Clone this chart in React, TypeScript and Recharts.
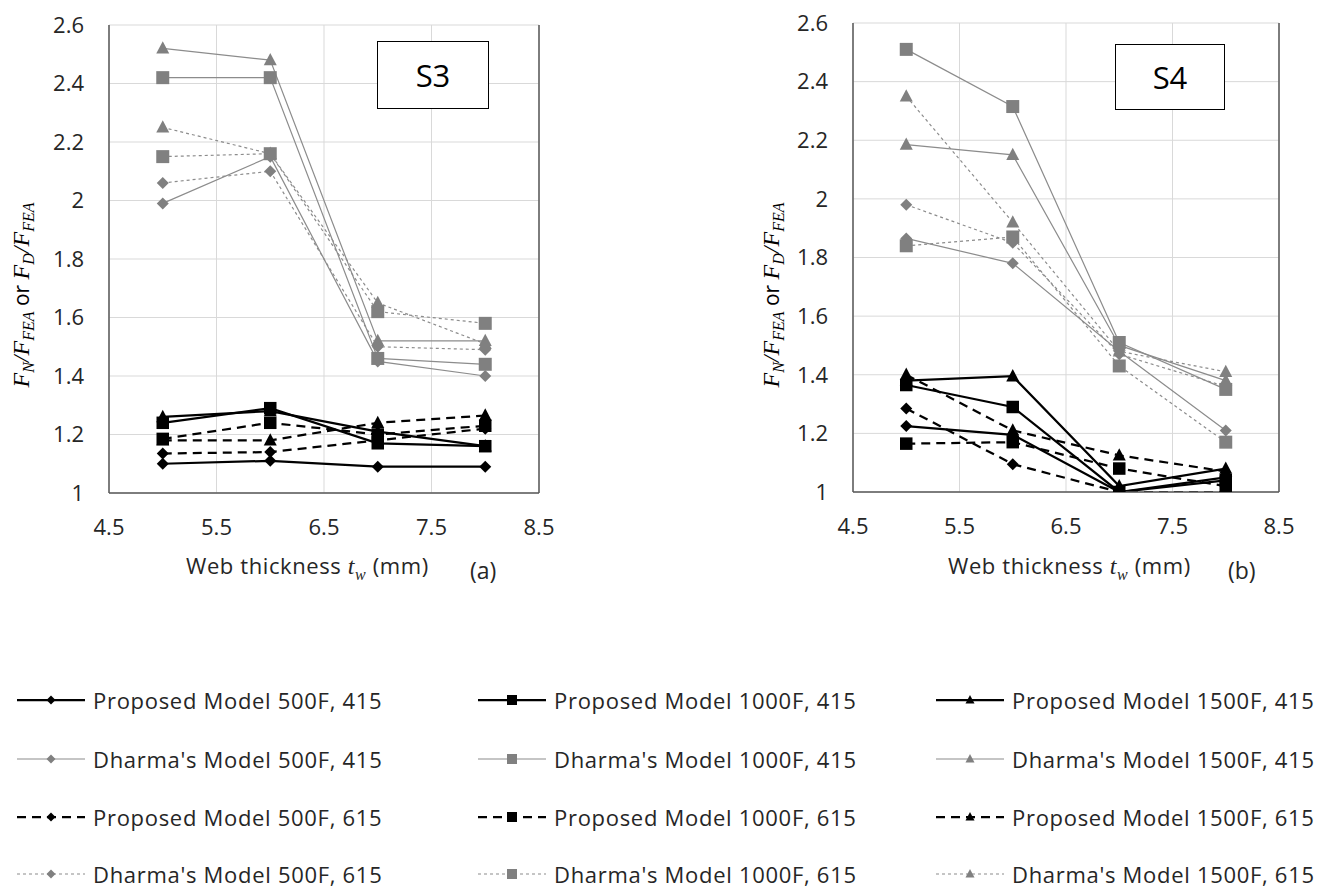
import React from 'react'
import { LineChart, Line, XAxis, YAxis, CartesianGrid, ReferenceLine } from 'recharts'

// web thickness t_w (mm)
const thickness = [5, 6, 7, 8]

// S3 — ratios F/F_FEA
const s3Prop500_415 = [1.1, 1.11, 1.09, 1.09]
const s3Prop1000_415 = [1.24, 1.29, 1.17, 1.16]
const s3Prop1500_415 = [1.26, 1.28, 1.21, 1.16]
const s3Dh500_415 = [1.99, 2.15, 1.45, 1.4]
const s3Dh1000_415 = [2.42, 2.42, 1.46, 1.44]
const s3Dh1500_415 = [2.52, 2.48, 1.52, 1.52]
const s3Prop500_615 = [1.135, 1.14, 1.18, 1.22]
const s3Prop1000_615 = [1.185, 1.24, 1.2, 1.23]
const s3Prop1500_615 = [1.18, 1.18, 1.24, 1.265]
const s3Dh500_615 = [2.06, 2.1, 1.5, 1.49]
const s3Dh1000_615 = [2.15, 2.16, 1.62, 1.58]
const s3Dh1500_615 = [2.25, 2.16, 1.65, 1.51]

// S4
const s4Prop500_415 = [1.225, 1.195, 1.0, 1.05]
const s4Prop1000_415 = [1.365, 1.29, 1.0, 1.04]
const s4Prop1500_415 = [1.38, 1.395, 1.02, 1.08]
const s4Dh500_415 = [1.865, 1.78, 1.48, 1.21]
const s4Dh1000_415 = [2.51, 2.315, 1.51, 1.35]
const s4Dh1500_415 = [2.185, 2.15, 1.5, 1.38]
const s4Prop500_615 = [1.285, 1.095, 1.0, 1.0]
const s4Prop1000_615 = [1.165, 1.17, 1.08, 1.02]
const s4Prop1500_615 = [1.4, 1.21, 1.125, 1.07]
const s4Dh500_615 = [1.98, 1.85, 1.47, 1.36]
const s4Dh1000_615 = [1.84, 1.87, 1.43, 1.17]
const s4Dh1500_615 = [2.35, 1.92, 1.48, 1.41]

const xTicks = [4.5, 5.5, 6.5, 7.5, 8.5]
const yTicks = [1, 1.2, 1.4, 1.6, 1.8, 2, 2.2, 2.4, 2.6]

const BLACK = '#000'
const GRAY = '#808080'
const GRAY_LINE = '#8c8c8c'
const FONT = '"Open Sans", Lato, sans-serif'
const TEXT = '#262626'

type Shape = 'diamond' | 'square' | 'triangle'

const seriesDefs = [
  { key: 'p500_415', label: 'Proposed Model 500F, 415', kind: 'prop', dashed: false, shape: 'diamond' as Shape },
  { key: 'p1000_415', label: 'Proposed Model 1000F, 415', kind: 'prop', dashed: false, shape: 'square' as Shape },
  { key: 'p1500_415', label: 'Proposed Model 1500F, 415', kind: 'prop', dashed: false, shape: 'triangle' as Shape },
  { key: 'd500_415', label: "Dharma's Model 500F, 415", kind: 'dh', dashed: false, shape: 'diamond' as Shape },
  { key: 'd1000_415', label: "Dharma's Model 1000F, 415", kind: 'dh', dashed: false, shape: 'square' as Shape },
  { key: 'd1500_415', label: "Dharma's Model 1500F, 415", kind: 'dh', dashed: false, shape: 'triangle' as Shape },
  { key: 'p500_615', label: 'Proposed Model 500F, 615', kind: 'prop', dashed: true, shape: 'diamond' as Shape },
  { key: 'p1000_615', label: 'Proposed Model 1000F, 615', kind: 'prop', dashed: true, shape: 'square' as Shape },
  { key: 'p1500_615', label: 'Proposed Model 1500F, 615', kind: 'prop', dashed: true, shape: 'triangle' as Shape },
  { key: 'd500_615', label: "Dharma's Model 500F, 615", kind: 'dh', dashed: true, shape: 'diamond' as Shape },
  { key: 'd1000_615', label: "Dharma's Model 1000F, 615", kind: 'dh', dashed: true, shape: 'square' as Shape },
  { key: 'd1500_615', label: "Dharma's Model 1500F, 615", kind: 'dh', dashed: true, shape: 'triangle' as Shape },
]

const s3Values: Record<string, number[]> = {
  p500_415: s3Prop500_415, p1000_415: s3Prop1000_415, p1500_415: s3Prop1500_415,
  d500_415: s3Dh500_415, d1000_415: s3Dh1000_415, d1500_415: s3Dh1500_415,
  p500_615: s3Prop500_615, p1000_615: s3Prop1000_615, p1500_615: s3Prop1500_615,
  d500_615: s3Dh500_615, d1000_615: s3Dh1000_615, d1500_615: s3Dh1500_615,
}
const s4Values: Record<string, number[]> = {
  p500_415: s4Prop500_415, p1000_415: s4Prop1000_415, p1500_415: s4Prop1500_415,
  d500_415: s4Dh500_415, d1000_415: s4Dh1000_415, d1500_415: s4Dh1500_415,
  p500_615: s4Prop500_615, p1000_615: s4Prop1000_615, p1500_615: s4Prop1500_615,
  d500_615: s4Dh500_615, d1000_615: s4Dh1000_615, d1500_615: s4Dh1500_615,
}

function buildRows(values: Record<string, number[]>) {
  return thickness.map((t, i) => {
    const row: Record<string, number> = { t }
    seriesDefs.forEach((s) => { row[s.key] = values[s.key][i] })
    return row
  })
}

function markerPath(shape: Shape, cx: number, cy: number, size: number) {
  const h = size / 2
  if (shape === 'diamond') return `M${cx},${cy - h}L${cx + h},${cy}L${cx},${cy + h}L${cx - h},${cy}Z`
  if (shape === 'square') return `M${cx - h},${cy - h}h${size}v${size}h${-size}Z`
  return `M${cx},${cy - h * 1.1}L${cx + h},${cy + h * 0.8}L${cx - h},${cy + h * 0.8}Z`
}

function markerSize(shape: Shape, kind: string) {
  if (shape === 'diamond') return 12
  if (shape === 'square') return kind === 'prop' ? 12.5 : 13
  return 13
}

function makeDot(shape: Shape, color: string, size: number) {
  return (props: any) => {
    const { cx, cy, index } = props
    if (cx == null || cy == null) return <g key={`e-${index}`} />
    return <path key={`d-${index}`} d={markerPath(shape, cx, cy, size)} fill={color} />
  }
}

function lineStyle(s: typeof seriesDefs[number]) {
  if (s.kind === 'prop') {
    return { stroke: BLACK, strokeWidth: 2.25, dash: s.dashed ? '9 6' : undefined, fill: BLACK }
  }
  return { stroke: GRAY_LINE, strokeWidth: 1.2, dash: s.dashed ? '3 3' : undefined, fill: GRAY }
}

const fmt = (v: number) => String(+v.toFixed(1))

function Panel({ rows, margin }: { rows: any[]; margin: any }) {
  return (
    <LineChart width={560} height={560} data={rows} margin={margin}>
      <CartesianGrid stroke="#d9d9d9" strokeWidth={1} />
      <XAxis
        dataKey="t"
        type="number"
        domain={[4.5, 8.5]}
        ticks={xTicks}
        tickFormatter={fmt}
        height={50}
        tickLine={false}
        tickSize={6}
        tickMargin={20}
        axisLine={{ stroke: '#595959', strokeWidth: 1.5 }}
        tick={{ fontSize: 22, fill: TEXT, fontFamily: FONT }}
        allowDataOverflow
      />
      <YAxis
        type="number"
        domain={[1, 2.6]}
        ticks={yTicks}
        tickFormatter={fmt}
        width={109}
        tickLine={false}
        tickSize={6}
        tickMargin={19}
        axisLine={{ stroke: '#595959', strokeWidth: 1.5 }}
        tick={{ fontSize: 22, fill: TEXT, fontFamily: FONT }}
        allowDataOverflow
      />
      <ReferenceLine x={8.5} stroke="#595959" strokeWidth={1.5} />
      {seriesDefs.map((s) => {
        const st = lineStyle(s)
        return (
          <Line
            key={s.key}
            dataKey={s.key}
            type="linear"
            stroke={st.stroke}
            strokeWidth={st.strokeWidth}
            strokeDasharray={st.dash}
            dot={makeDot(s.shape, st.fill, markerSize(s.shape, s.kind))}
            activeDot={false}
            isAnimationActive={false}
          />
        )
      })}
    </LineChart>
  )
}

function YTitle({ left, top }: { left: number; top: number }) {
  const serif = '"Liberation Serif", "DejaVu Serif", serif'
  return (
    <svg style={{ position: 'absolute', left, top }} width={40} height={340}>
      <text
        transform="translate(29,170) rotate(-90)"
        textAnchor="middle"
        fontSize={24}
        fill="#000"
        fontFamily={serif}
        fontStyle="italic"
      >
        <tspan>F</tspan>
        <tspan fontSize={16} dy={5}>N</tspan>
        <tspan dy={-5}>/F</tspan>
        <tspan fontSize={16} dy={5}>FEA</tspan>
        <tspan dy={-5} fontStyle="normal" fontFamily={FONT} fontSize={21}> or </tspan>
        <tspan>F</tspan>
        <tspan fontSize={16} dy={5}>D</tspan>
        <tspan dy={-5}>/F</tspan>
        <tspan fontSize={16} dy={5}>FEA</tspan>
      </text>
    </svg>
  )
}

function XTitle({ left, top, tag, tagLeft }: { left: number; top: number; tag: string; tagLeft: number }) {
  return (
    <>
      <div style={{ position: 'absolute', left, top, fontFamily: FONT, fontSize: 22, letterSpacing: 0.6, color: TEXT, whiteSpace: 'nowrap', lineHeight: '30px' }}>
        Web thickness{' '}
        <span style={{ fontFamily: '"Liberation Serif", serif', fontStyle: 'italic', fontSize: 24 }}>
          t<sub style={{ fontSize: 16 }}>w</sub>
        </span>{' '}
        (mm)
      </div>
      <div style={{ position: 'absolute', left: tagLeft, top: top + 5, fontFamily: FONT, fontSize: 23, color: TEXT, lineHeight: '30px' }}>{tag}</div>
    </>
  )
}

function Tag({ left, top, width, height, text }: { left: number; top: number; width: number; height: number; text: string }) {
  return (
    <div
      style={{
        position: 'absolute', left, top, width, height, boxSizing: 'border-box',
        border: '1.5px solid #000', background: '#fff', display: 'flex',
        alignItems: 'center', justifyContent: 'center', fontFamily: FONT, fontSize: 31, color: '#000',
      }}
    >
      {text}
    </div>
  )
}

const legendCols = [17, 478, 936]
const legendRows = [700, 759, 817, 874]

function LegendItem({ s, x, y }: { s: typeof seriesDefs[number]; x: number; y: number }) {
  const st = lineStyle(s)
  const size = s.shape === 'square' ? 10 : 9
  return (
    <div style={{ position: 'absolute', left: x, top: y - 12, height: 24, display: 'flex', alignItems: 'center', whiteSpace: 'nowrap' }}>
      <svg width={68} height={20} style={{ marginRight: 8 }}>
        <line x1={0} y1={10} x2={68} y2={10} stroke={st.stroke} strokeWidth={st.strokeWidth} strokeDasharray={st.dash} />
        <path d={markerPath(s.shape, 34, 10, size)} fill={st.fill} />
      </svg>
      <span style={{ fontFamily: FONT, fontSize: 22, letterSpacing: 0.7, lineHeight: '24px', color: TEXT }}>{s.label}</span>
    </div>
  )
}

export default function App() {
  const s3Rows = buildRows(s3Values)
  const s4Rows = buildRows(s4Values)
  return (
    <div style={{ position: 'absolute', left: 0, top: 0, width: 1322, height: 890, background: '#fff', overflow: 'hidden' }}>
      <div style={{ position: 'absolute', left: 0, top: 0 }}>
        <Panel rows={s3Rows} margin={{ top: 25, right: 21, left: 0, bottom: 17 }} />
      </div>
      <div style={{ position: 'absolute', left: 744, top: 0 }}>
        <Panel rows={s4Rows} margin={{ top: 23, right: 25, left: 0, bottom: 18 }} />
      </div>
      <Tag left={377} top={41} width={112} height={68} text="S3" />
      <Tag left={1115} top={44} width={110} height={66} text="S4" />
      <YTitle left={0} top={125} />
      <YTitle left={750} top={125} />
      <XTitle left={186} top={550} tag="(a)" tagLeft={470} />
      <XTitle left={948} top={550} tag="(b)" tagLeft={1228} />
      {seriesDefs.map((s, i) => (
        <LegendItem key={s.key} s={s} x={legendCols[i % 3]} y={legendRows[Math.floor(i / 3)]} />
      ))}
    </div>
  )
}
